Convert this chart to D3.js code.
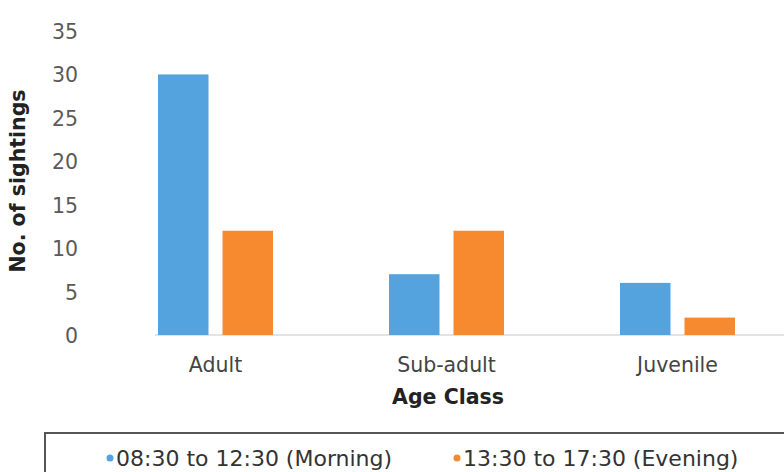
<!DOCTYPE html>
<html><head><meta charset="utf-8">
<script src="https://cdn.jsdelivr.net/npm/d3@7"></script>
<style>body{margin:0;background:#fff;} svg{display:block;font-family:"DejaVu Sans",Verdana,sans-serif;}</style>
</head><body>
<svg id="c" width="784" height="472"></svg>
<script>
const categories = ["Adult", "Sub-adult", "Juvenile"];
const seriesNames = ["08:30 to 12:30 (Morning)", "13:30 to 17:30 (Evening)"];
const morning = [30, 7, 6];
const evening = [12, 12, 2];
const yTicks = [0, 5, 10, 15, 20, 25, 30, 35];
const colors = ["#55a3de", "#f7892f"];

const svg = d3.select("#c");
const y = d3.scaleLinear().domain([0, 35]).range([335, 31]);
const x = d3.scaleBand().domain(categories).range([100, 793]);
const xs = d3.scaleBand().domain([0, 1]).range([58, 173]).paddingInner(0.217);

// axis baseline
svg.append("line").attr("x1", 155).attr("x2", 784).attr("y1", y(0)).attr("y2", y(0))
  .attr("stroke", "#c8c8c8").attr("stroke-width", 1);

const data = categories.map((c, i) => ({c, v: [morning[i], evening[i]]}));
const g = svg.selectAll("g.cat").data(data).join("g").attr("transform", d => `translate(${x(d.c)},0)`);
g.selectAll("rect").data(d => d.v.map((v, k) => ({v, k}))).join("rect")
  .attr("x", d => xs(d.k)).attr("width", xs.bandwidth())
  .attr("y", d => y(d.v)).attr("height", d => y(0) - y(d.v))
  .attr("fill", d => colors[d.k]);

// y tick labels
const yAxis = d3.axisLeft(y).tickValues(yTicks).tickSize(0).tickPadding(0);
const ya = svg.append("g").attr("transform", "translate(78,1)").call(yAxis);
ya.select(".domain").remove();
ya.selectAll("text").attr("fill", "#5a5a5a").style("font-size", "20.5px").style("font-family", "DejaVu Sans");

// x tick labels
const xAxis = d3.axisBottom(x).tickSize(0).tickPadding(0);
const xa = svg.append("g").attr("transform", "translate(0,357)").call(xAxis);
xa.select(".domain").remove();
xa.selectAll("text").attr("fill", "#444").style("font-size", "20.5px").style("font-family", "DejaVu Sans");

// axis titles
svg.append("text").attr("x", 448).attr("y", 404).attr("text-anchor", "middle")
  .style("font-size", "20.5px").style("font-weight", "bold").attr("fill", "#222").text("Age Class");
svg.append("text").attr("transform", "translate(25,181) rotate(-90)").attr("text-anchor", "middle")
  .style("font-size", "20.5px").style("font-weight", "bold").attr("fill", "#222").text("No. of sightings");

// legend
svg.append("path").attr("d", "M45,472 V433 H784").attr("fill", "none").attr("stroke", "#555").attr("stroke-width", 2);
const legX = [110, 457];
const lg = svg.selectAll("g.leg").data(seriesNames).join("g").attr("transform", (d, i) => `translate(${legX[i]},466)`);
lg.append("circle").attr("cx", 0).attr("cy", -8).attr("r", 3.5).attr("fill", (d, i) => colors[i]);
lg.append("text").attr("x", 6).attr("y", 0).style("font-size", "22px").attr("fill", "#333").text(d => d);
</script>
</body></html>
